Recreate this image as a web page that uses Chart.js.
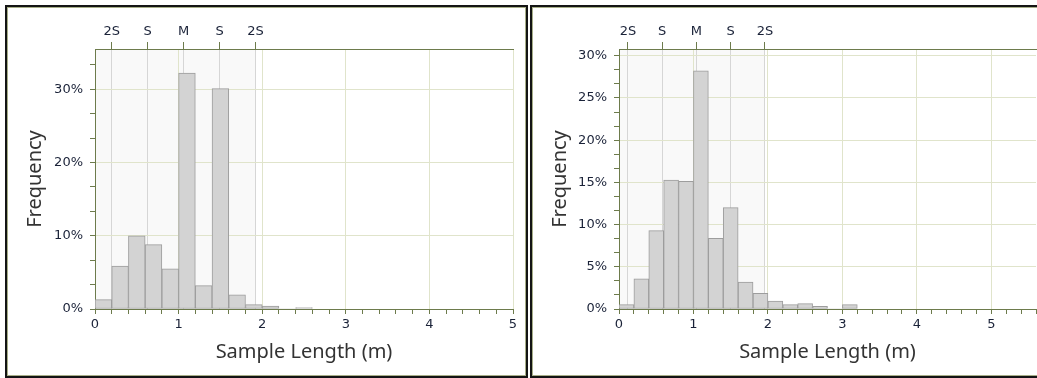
<!DOCTYPE html>
<html>
<head>
<meta charset="utf-8">
<title>Sample Length Histograms</title>
<script src="https://cdn.jsdelivr.net/npm/chart.js@4.4.1/dist/chart.umd.min.js"></script>
<style>
  html, body { margin: 0; padding: 0; background: #fff; overflow: hidden; width: 1037px; height: 378px; }
  .frame { position: absolute; top: 5px; height: 369px; border: 2px solid #141414; box-shadow: inset 0 0 0 1px #a7ae88; background: #fff; }
  #frameA { left: 5px; width: 519px; }
  #frameB { left: 530px; width: 540px; }
  .box { position: absolute; top: 9px; height: 366px; }
  #boxA { left: 9px; width: 514px; }
  #boxB { left: 534px; width: 512px; }
</style>
</head>
<body>
<div class="frame" id="frameA"></div>
<div class="frame" id="frameB"></div>
<div class="box" id="boxA"><canvas id="histA"></canvas></div>
<div class="box" id="boxB"><canvas id="histB"></canvas></div>
<script>
// Histogram bins (start of each 0.2 m bin) and frequencies in percent
const binWidth = 0.2;

const binStartsA = [0.0, 0.2, 0.4, 0.6, 0.8, 1.0, 1.2, 1.4, 1.6, 1.8, 2.0, 2.2, 2.4];
const freqA      = [1.27, 5.85, 10.0, 8.8, 5.5, 32.2, 3.2, 30.1, 1.95, 0.6, 0.4, 0, 0.2];
const meanA = 1.06, sdA = 0.43;

const binStartsB = [0.0, 0.2, 0.4, 0.6, 0.8, 1.0, 1.2, 1.4, 1.6, 1.8, 2.0, 2.2, 2.4, 2.6, 2.8, 3.0];
const freqB      = [0.52, 3.57, 9.29, 15.28, 15.12, 28.2, 8.37, 12.0, 3.2, 1.87, 0.95, 0.52, 0.63, 0.32, 0, 0.52];
const meanB = 1.04, sdB = 0.46;

// Sigma markers along the top edge
const markerLabels = ['2S', 'S', 'M', 'S', '2S'];
const markerMultiples = [-2, -1, 0, 1, 2];

const xTitle = 'Sample Length (m)';
const yTitle = 'Frequency';

const OLIVE = '#6d7b4c';
const GRID = '#e0e4cb';
const MARKER_LINE = '#d6d6d6';
const TICK_TEXT = '#1a2238';
const TITLE_TEXT = '#333333';
const tickFont = { family: 'DejaVu Sans', size: 13 };
const titleFont = { family: 'Noto Sans', size: 20 };

// Light band behind the bars out to M + 2S
const sigmaBand = {
  id: 'sigmaBand',
  beforeDraw(chart, args, opts) {
    const { ctx, chartArea: a, scales: { x } } = chart;
    const x0 = x.getPixelForValue(Math.max(x.min, opts.from));
    const x1 = x.getPixelForValue(Math.min(x.max, opts.to));
    ctx.save();
    ctx.fillStyle = opts.color;
    ctx.fillRect(x0, a.top, x1 - x0, a.bottom - a.top);
    ctx.restore();
  }
};

function zeroPadding(scale) {
  scale.paddingLeft = 0; scale.paddingRight = 0;
  scale.paddingTop = 0; scale.paddingBottom = 0;
}

function isWhole(v, step) {
  const r = v / step;
  return Math.abs(r - Math.round(r)) < 1e-6;
}

function makeHistogram(canvasId, cfg) {
  const points = cfg.starts.map((s, i) => ({ x: s + binWidth / 2, y: cfg.freq[i] }));
  const markers = markerMultiples.map(k => cfg.mean + k * cfg.sd);
  const yMinorStep = cfg.yStep / cfg.yDiv;

  return new Chart(document.getElementById(canvasId), {
    type: 'bar',
    data: {
      datasets: [{
        data: points,
        backgroundColor: '#d3d3d3',
        borderColor: '#9d9d9d',
        borderWidth: ctx => (ctx.raw && ctx.raw.y > 0 ? 1 : 0),
        borderSkipped: false,
        barPercentage: 1,
        categoryPercentage: 1,
        xAxisID: 'x',
        yAxisID: 'y'
      }]
    },
    options: {
      responsive: true,
      maintainAspectRatio: false,
      devicePixelRatio: 1,
      animation: false,
      layout: { padding: { left: 0, top: 0, right: 10, bottom: 0 } },
      plugins: {
        legend: { display: false },
        tooltip: { enabled: false },
        sigmaBand: { from: 0, to: cfg.mean + 2 * cfg.sd, color: '#f9f9f9' }
      },
      scales: {
        x: {
          type: 'linear',
          position: 'bottom',
          min: 0,
          max: cfg.xMax,
          offset: false,
          afterBuildTicks: scale => {
            const n = Math.round(cfg.xMax / binWidth);
            const t = [];
            for (let i = 0; i <= n; i++) t.push({ value: +(i * binWidth).toFixed(6) });
            scale.ticks = t;
          },
          afterFit: scale => { scale.height = 66; zeroPadding(scale); },
          border: { color: OLIVE, width: 1 },
          grid: {
            offset: false,
            tickLength: 5,
            tickColor: OLIVE,
            color: ctx => (ctx.tick && ctx.tick.value > 0 && isWhole(ctx.tick.value, 1) ? GRID : 'rgba(0,0,0,0)')
          },
          ticks: {
            autoSkip: false,
            maxRotation: 0,
            padding: 3,
            color: TICK_TEXT,
            font: tickFont,
            callback: v => (isWhole(v, 1) ? String(Math.round(v)) : '')
          },
          title: { display: true, text: xTitle, color: TITLE_TEXT, font: titleFont, padding: { top: 0, bottom: 11 } }
        },
        x2: {
          type: 'linear',
          position: 'top',
          min: 0,
          max: cfg.xMax,
          offset: false,
          afterBuildTicks: scale => { scale.ticks = markers.map(v => ({ value: v })); },
          afterFit: scale => { scale.height = 40; zeroPadding(scale); },
          border: { color: OLIVE, width: 1 },
          grid: { offset: false, tickLength: 7, tickColor: OLIVE, color: MARKER_LINE, drawOnChartArea: true },
          ticks: {
            autoSkip: false,
            maxRotation: 0,
            padding: 3,
            color: TICK_TEXT,
            font: tickFont,
            callback: (v, i) => markerLabels[i]
          }
        },
        y: {
          type: 'linear',
          position: 'left',
          min: 0,
          max: cfg.yMax,
          afterBuildTicks: scale => {
            const n = Math.floor(cfg.yMax / yMinorStep + 1e-9);
            const t = [];
            for (let i = 0; i <= n; i++) t.push({ value: i * yMinorStep });
            scale.ticks = t;
          },
          afterFit: scale => { scale.width = cfg.yAxisWidth; zeroPadding(scale); },
          border: { color: OLIVE, width: 1 },
          grid: {
            tickLength: 5,
            tickColor: OLIVE,
            color: ctx => (ctx.tick && ctx.index > 0 && ctx.index % cfg.yDiv === 0 ? GRID : 'rgba(0,0,0,0)')
          },
          ticks: {
            autoSkip: false,
            padding: 7,
            color: TICK_TEXT,
            font: tickFont,
            callback: (v, i) => (i % cfg.yDiv === 0 ? Math.round(v) + '%' : '')
          },
          title: { display: true, text: yTitle, color: TITLE_TEXT, font: titleFont, padding: { top: 14, bottom: 0 } }
        }
      }
    },
    plugins: [sigmaBand]
  });
}

makeHistogram('histA', {
  starts: binStartsA, freq: freqA, mean: meanA, sd: sdA,
  xMax: 5, yMax: 35.5, yStep: 10, yDiv: 3, yAxisWidth: 86
});

makeHistogram('histB', {
  starts: binStartsB, freq: freqB, mean: meanB, sd: sdB,
  xMax: 5.6, yMax: 30.8, yStep: 5, yDiv: 3, yAxisWidth: 85
});
</script>
</body>
</html>
